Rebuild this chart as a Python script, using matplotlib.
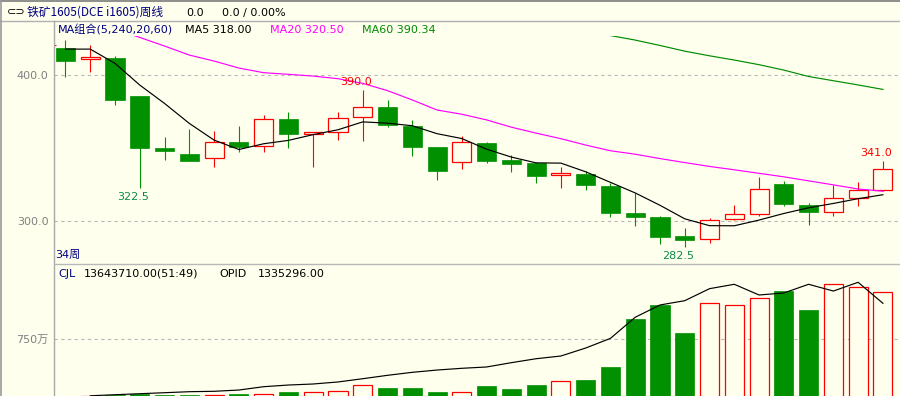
import numpy as np
import pandas as pd
import matplotlib
matplotlib.use("Agg")
import matplotlib.pyplot as plt
from matplotlib.patches import Rectangle
from matplotlib.lines import Line2D

plt.rcParams['font.family'] = ['DejaVu Sans', 'Noto Sans CJK SC']

# ---------------- data ----------------
opens = [418.9, 411.4, 412.0, 385.8, 350.2, 346.1, 343.2, 354.1, 351.4, 370.1,
         360.0, 361.4, 371.2, 378.5, 365.3, 350.9, 340.4, 353.6, 342.0, 340.1,
         331.5, 332.4, 324.2, 305.5, 302.9, 290.0, 287.7, 301.4, 304.8, 325.5,
         311.0, 306.2, 315.5, 321.2]
highs = [424.2, 420.8, 413.4, 386.0, 358.0, 363.2, 361.8, 365.3, 372.8, 374.9,
         361.2, 374.9, 390.0, 383.1, 369.4, 351.0, 358.4, 354.3, 345.6, 340.5,
         337.0, 334.0, 326.4, 319.4, 303.6, 295.4, 302.2, 311.2, 330.3, 327.6,
         312.5, 324.7, 326.9, 341.0]
lows = [399.0, 402.0, 379.9, 322.5, 342.2, 341.5, 337.4, 347.7, 347.7, 350.4,
        337.4, 355.7, 355.2, 364.8, 344.9, 328.3, 335.8, 340.1, 333.8, 326.4,
        323.0, 321.6, 302.5, 296.3, 284.0, 282.5, 284.7, 300.4, 303.2, 310.0,
        297.4, 303.2, 310.0, 320.5]
closes = [410.0, 411.4, 383.3, 350.4, 348.4, 341.5, 354.1, 351.1, 370.1, 360.0,
          361.2, 370.8, 378.1, 365.8, 351.1, 334.0, 354.1, 341.5, 338.8, 331.2,
          333.1, 324.4, 305.2, 302.5, 288.8, 286.7, 300.9, 304.8, 322.1, 311.4,
          306.2, 315.8, 321.2, 335.6]

# moving averages: leading values (need earlier weeks)
ma5_head = [418.0, 418.0, 408.2, 393.3]
ma20_head = [445.0, 438.0, 431.7, 426.0, 420.1, 413.9, 409.8, 405.0, 401.8, 400.7,
             399.5, 397.7, 394.5, 389.5, 383.1, 376.2, 373.3, 369.4, 364.4]
ma60 = [None] * 21 + [430.5, 427.3, 424.2, 420.5, 416.6, 413.4, 410.5, 407.3,
                      403.6, 399.2, 396.3, 393.4, 390.34]
ma_names = ["MA5", "MA20", "MA60"]
ma_last = [318.00, 320.50, 390.34]

# volume (万手) and open interest
volumes_wan = [3, 4, 13, 30, 13, 13, 18, 22, 31, 52, 52, 65, 140, 104, 104, 52,
               48, 130, 91, 144, 192, 209, 379, 1005, 1192, 826, 1215, 1188,
               1280, 1375, 1127, 1463, 1423, 1364.371]
open_interest = [None, 3000, 18700, 33000, 47500, 62000, 67700, 86000, 134000,
                 158000, 173000, 202000, 249000, 298000, 341000, 374000, 399000,
                 418000, 480000, 537000, 576000, 691000, 830000, 1134000,
                 1311000, 1373000, 1546000, 1609000, 1455000, 1484000, 1609000,
                 1512000, 1638000, 1335296]
cjl_text = "13643710.00(51:49)"

price_ticks = [300.0, 400.0]
vol_tick_wan = [750]
ann_index = [3, 12, 25, 33]
ann_kind = ['low', 'high', 'low', 'high']
prev_marker = 420.8

# ---------------- styling ----------------
BG = '#FFFFEE'
RED = '#FF0000'
GREEN = '#009000'
NAVY = '#000080'
GRAY = '#808080'
GRID = '#B8B8B8'

W, H = 900, 396
fig = plt.figure(figsize=(W / 100, H / 100), dpi=100)
fig.patch.set_facecolor(BG)


def fx(px):
    return px / W


def fy(py):
    return 1 - py / H


ax = fig.add_axes([fx(54), fy(264), (900 - 54) / W, (264 - 36) / H])
axv = fig.add_axes([fx(54), 0, (900 - 54) / W, (396 - 264) / H])
axo = axv.twinx()

n = len(closes)
x = np.arange(n)
xlim = (-0.464, 33.69)
bw = 0.77

for a in (ax, axv, axo):
    a.set_facecolor(BG)
    for s in a.spines.values():
        s.set_visible(False)
    a.set_xlim(*xlim)
    a.set_xticks([])
axo.patch.set_visible(False)

# ---- price panel ----
ax.set_ylim(270.5, 427.0)
ax.set_yticks(price_ticks)
ax.set_yticklabels([f"{t:.1f}" for t in price_ticks])
ax.tick_params(axis='y', length=0, pad=4, labelcolor=GRAY, labelsize=8)
ax.grid(axis='y', color=GRID, linestyle=(0, (3, 3)), linewidth=0.8)
ax.set_axisbelow(True)

for i in range(n):
    o, h, l, c = opens[i], highs[i], lows[i], closes[i]
    top, bot = max(o, c), min(o, c)
    hgt = max(top - bot, 1.0)
    if c >= o:
        ax.vlines(i, top, h, color=RED, lw=0.8, zorder=2)
        ax.vlines(i, l, bot, color=RED, lw=0.8, zorder=2)
        ax.add_patch(Rectangle((i - bw / 2, bot), bw, hgt, facecolor=BG,
                               edgecolor=RED, lw=0.9, zorder=3))
    else:
        ax.vlines(i, l, h, color=GREEN, lw=0.8, zorder=2)
        ax.add_patch(Rectangle((i - bw / 2, bot), bw, hgt, facecolor=GREEN,
                               edgecolor=GREEN, lw=0.5, zorder=3))

ax.hlines(prev_marker, xlim[0], 0 - bw / 2, colors=RED, lw=0.8,
          linestyles=(0, (2, 1.5)), zorder=3)

cs = pd.Series(closes)
ma5 = cs.rolling(5).mean().to_numpy()
ma5[:len(ma5_head)] = ma5_head
ma20 = cs.rolling(20).mean().to_numpy()
ma20[:len(ma20_head)] = ma20_head
ma60_arr = np.array([np.nan if v is None else v for v in ma60], dtype=float)

ax.plot(x, ma5, color='black', lw=0.85, zorder=4)
ax.plot(x, ma20, color='#FF00FF', lw=0.85, zorder=4)
ax.plot(x, ma60_arr, color='#008C00', lw=0.85, zorder=4)

for idx, kind in zip(ann_index, ann_kind):
    if kind == 'high':
        ax.annotate(f"{highs[idx]:.1f}", (idx, highs[idx]), xytext=(-7, 3),
                    textcoords='offset pixels', ha='center', va='bottom',
                    color=RED, fontsize=8, zorder=5)
    else:
        ax.annotate(f"{lows[idx]:.1f}", (idx, lows[idx]), xytext=(-7, -4),
                    textcoords='offset pixels', ha='center', va='top',
                    color='#0A8A4A', fontsize=8, zorder=5)

# ---- volume panel ----
vols = np.array(volumes_wan) * 1e4
vbase = -3e5  # bars start just below the visible bottom edge
axv.set_ylim(0, 132 * 13.07e4)
axv.set_yticks([v * 1e4 for v in vol_tick_wan])
axv.set_yticklabels([f"{v}万" for v in vol_tick_wan])
axv.tick_params(axis='y', length=0, pad=4, labelcolor=GRAY, labelsize=8)
axv.grid(axis='y', color=GRID, linestyle=(0, (3, 3)), linewidth=0.8)
axv.set_axisbelow(True)
for i in range(n):
    if closes[i] >= opens[i]:
        axv.add_patch(Rectangle((i - bw / 2, vbase), bw, vols[i] - vbase,
                                facecolor=BG, edgecolor=RED, lw=0.9, zorder=3))
    else:
        axv.add_patch(Rectangle((i - bw / 2, vbase), bw, vols[i] - vbase,
                                facecolor=GREEN, edgecolor=GREEN, lw=0.5,
                                zorder=3))

oi = np.array([np.nan if v is None else v for v in open_interest], dtype=float)
axo.set_ylim(0, 132 * open_interest[-1] / 92.7)
axo.set_yticks([])
axo.plot(x, oi, color='black', lw=0.85, zorder=4)

# ---- frame lines ----
def fline(xs, ys, color, lw=1.0):
    fig.add_artist(Line2D([fx(v) for v in xs], [fy(v) for v in ys],
                          transform=fig.transFigure, color=color, lw=lw))

fline([0, 900], [1, 1], '#7A7A7A', 1.2)
fline([0, 900], [21.3, 21.3], '#B0B0B0', 1.0)
fline([0.5, 0.5], [0, 396], '#9A9A9A', 1.2)
fline([53.5, 53.5], [21.3, 396], '#A8A8A8', 1.0)
fline([53.5, 900], [264.3, 264.3], '#B8B8B8', 1.0)

# ---- header texts ----
def ftext(px, py, s, color='black', size=8, **kw):
    fig.text(fx(px), fy(py), s, color=color, fontsize=size, va='center',
             ha='left', **kw)

ftext(7, 12, "⊂⊃", 'black', 8)
ftext(27, 12, "铁矿1605(DCE i1605)周线", NAVY, 8.5,
      family=['Noto Sans CJK SC', 'DejaVu Sans'])
ftext(186, 13, "0.0")
ftext(222, 13, "0.0 / 0.00%")

ftext(58, 30, "MA组合(5,240,20,60)", NAVY, 8)
ma_x = [185, 270, 362]
ma_col = ['black', '#FF00FF', '#008C00']
for px, name, val, col in zip(ma_x, ma_names, ma_last, ma_col):
    ftext(px, 30, f"{name} {val:.2f}", col, 8)

ftext(55, 255, f"{n}周", NAVY, 8)

ftext(58, 274, "CJL", NAVY, 8)
ftext(84, 274, cjl_text, 'black', 8)
ftext(219, 274, "OPID", 'black', 8)
ftext(258, 274, f"{open_interest[-1]:.2f}", 'black', 8)

fig.savefig("out.png", dpi=100, facecolor=BG)
